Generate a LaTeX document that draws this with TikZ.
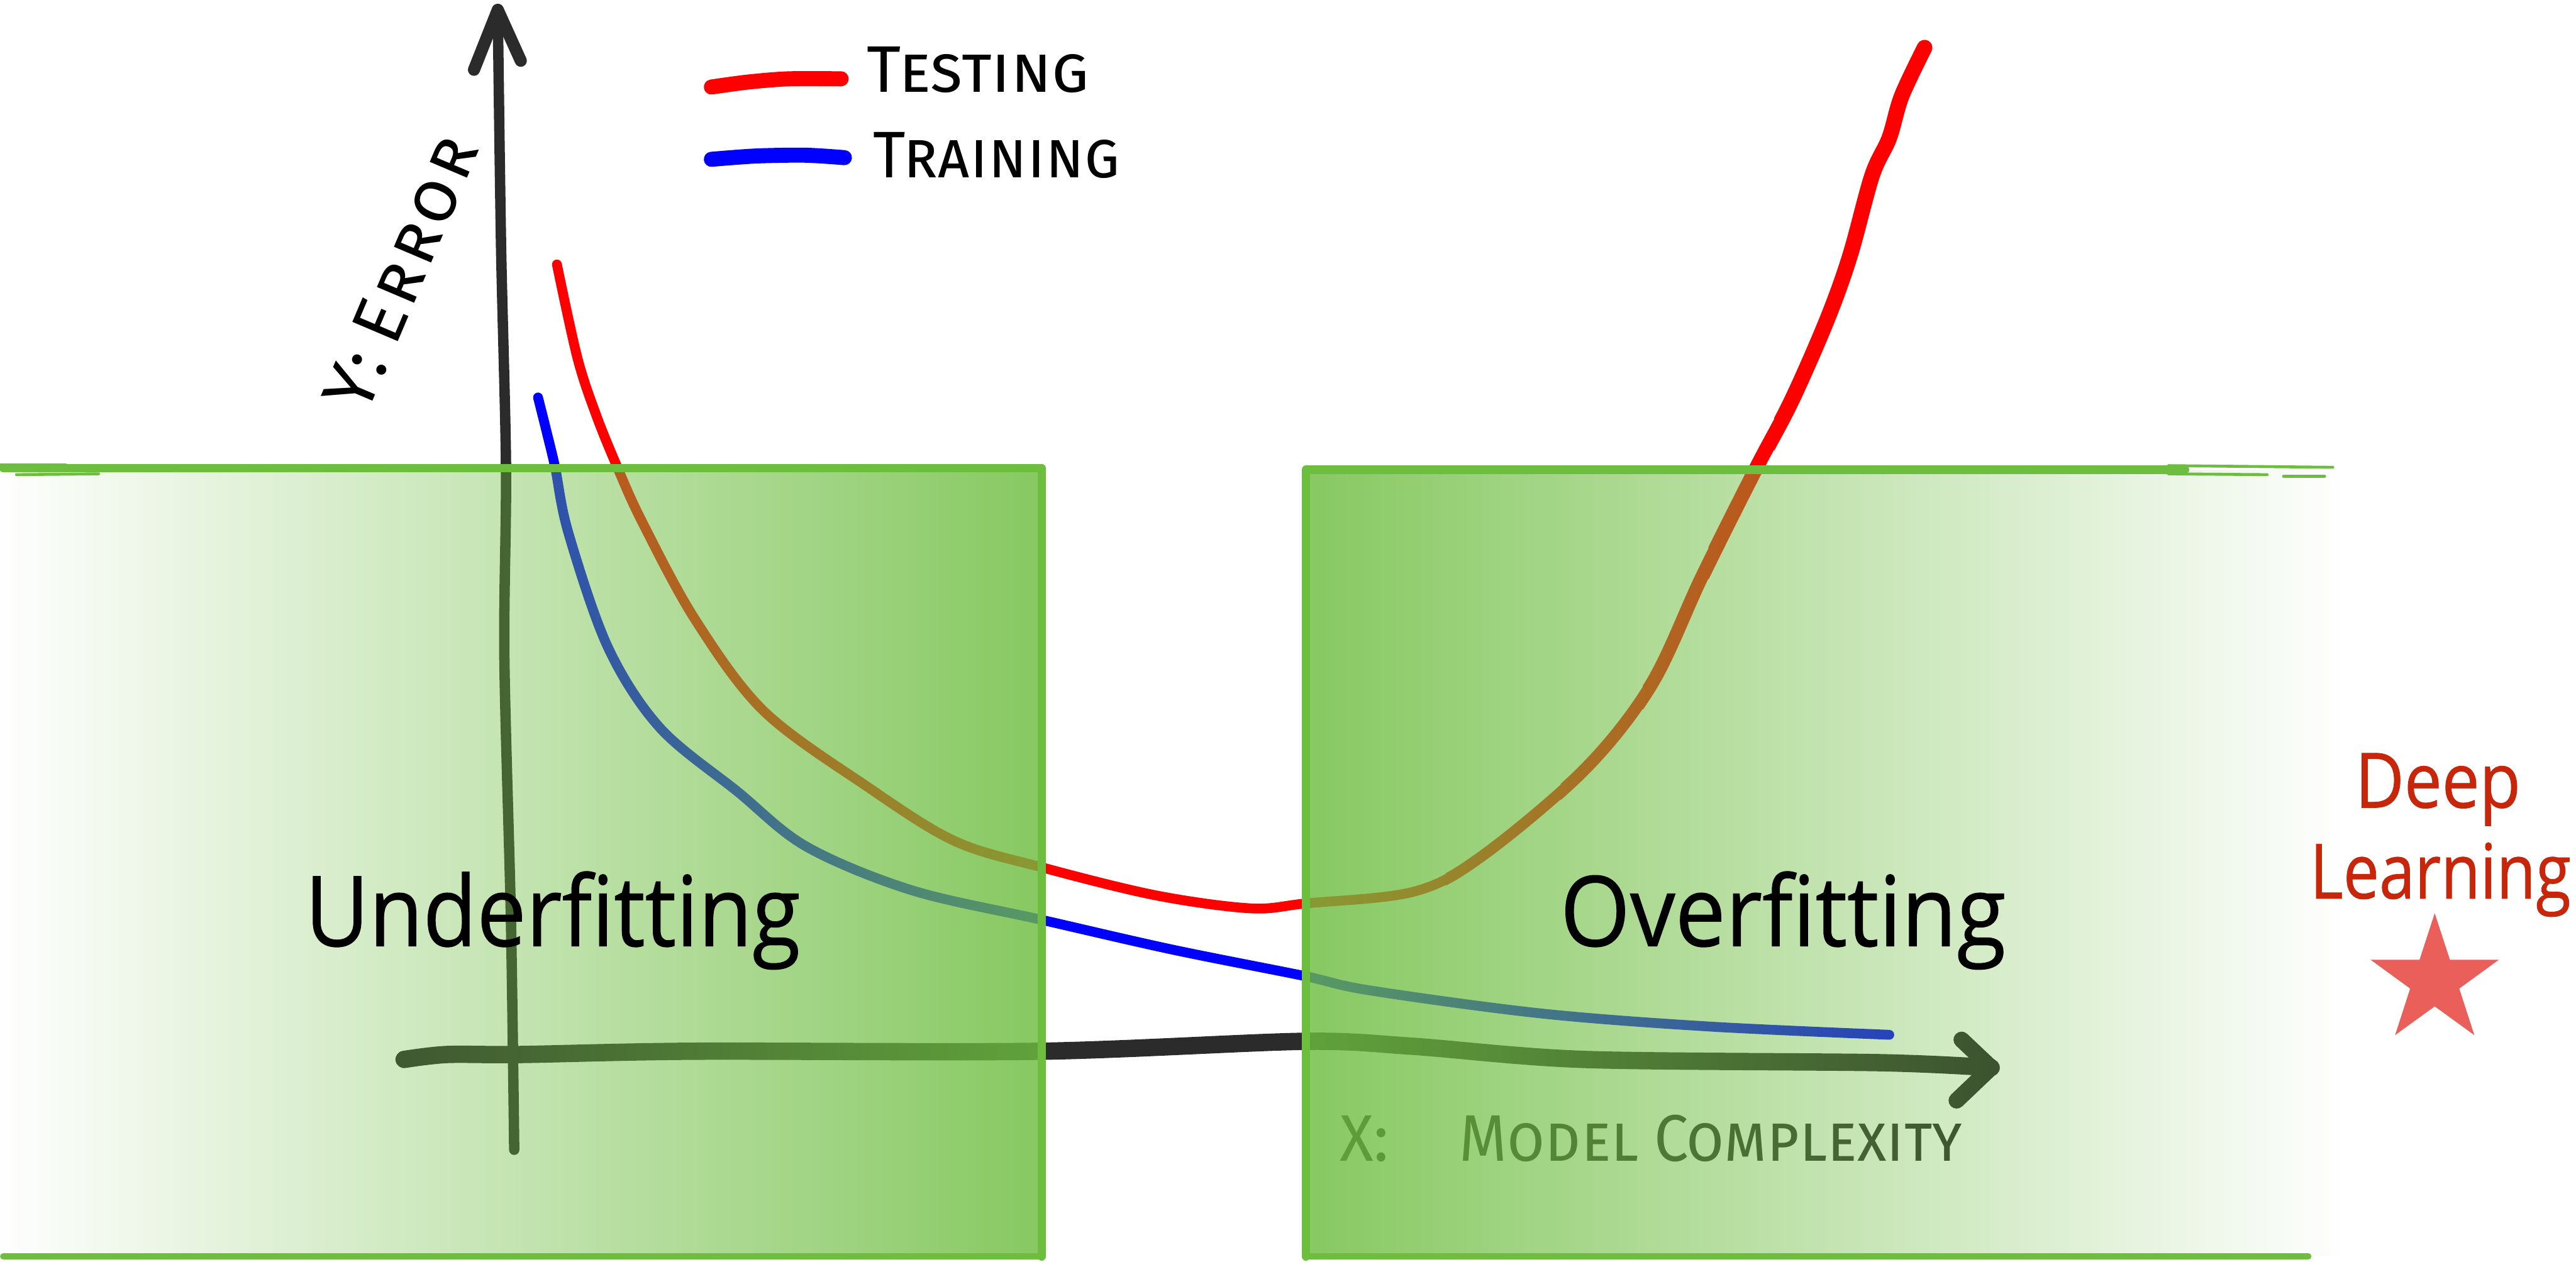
\documentclass[tikz,border=0pt]{standalone}
\usepackage{fontspec}
\usepackage{graphicx}
\usetikzlibrary{fadings}
\newfontfamily\gillfont{Open Sans}[FakeBold=0.7]
\newfontfamily\handfont{Fira Sans}[Letters=SmallCaps]
\newfontfamily\handfontwide{Fira Sans}[Letters=SmallCaps, LetterSpace=6]
\definecolor{boxgreen}{HTML}{6DBD3F}
\definecolor{axisgray}{HTML}{2B2B2B}
\definecolor{dlred}{HTML}{C8260A}
\definecolor{starred}{HTML}{EB5F5A}
\tikzfading[name=fadetoright, left color=transparent!100, right color=transparent!0]
\tikzfading[name=fadetoleft, left color=transparent!0, right color=transparent!100]
\tikzset{
  axisline/.style={draw=axisgray, line cap=round, line join=round},
  curvered/.style={draw=red, line cap=round, line join=round},
  curveblue/.style={draw=blue, line cap=round, line join=round},
  legendline/.style={line width=2.6pt, line cap=round},
  boxborder/.style={draw=boxgreen, line width=1.45pt, line cap=round, line join=round},
  brush/.style={draw=boxgreen, line width=0.5pt, line cap=round},
  hwtext/.style={font=\handfont\fontsize{11.4}{12}\selectfont, inner sep=0pt},
  bigtext/.style={font=\gillfont\fontsize{16.9}{18}\selectfont, inner sep=0pt, text=black},
  dltext/.style={font=\gillfont\fontsize{13.2}{15}\selectfont, inner sep=0pt, text=dlred}
}
\begin{document}
\begin{tikzpicture}[x=0.01cm, y=-0.01cm]
\useasboundingbox (0,0) rectangle (1568,768);
\fill[white] (0,0) rectangle (1568,768);

% ---- axes ----
\coordinate (ytip) at (303,6);
\coordinate (ybot) at (313,700);
\coordinate (xstart) at (246,645);
\coordinate (xtip) at (1212,650);
\draw[axisline, line width=1.8pt] plot[smooth, tension=0.5] coordinates
  {(ybot) (311,560) (307,400) (308,285) (305,150) (ytip)};
\draw[axisline, line width=2.1pt] (288.5,42.5) -- (ytip) -- (317,37);
\draw[axisline, line width=3pt] plot[smooth, tension=0.5] coordinates
  {(xstart) (272,642) (317,642) (423,640) (634,640) (793,634) (860,637) (964,645) (1145,647) (xtip)};
\draw[axisline, line width=2.8pt] (1194,633) -- (xtip) -- (1191,670);

% ---- curves ----
\foreach \xc/\w in {0/1.7, 880/1.9, 950/2.1, 1000/2.3, 1040/2.5, 1080/2.7} {
  \begin{scope}
    \clip (\xc,-20) rectangle (1600,800);
    \draw[curvered, line width=\w pt] plot[smooth, tension=0.55] coordinates
      {(339,161) (351.5,218) (363,253) (376,285) (391,318) (423,377) (465,433) (528,479)
       (581,512) (634,528) (703,545) (761,553) (795,550) (860,543) (901,522) (964,469)
       (1005,417) (1036,351) (1069,285) (1090.5,244) (1112,195) (1126,156) (1139.5,107)
       (1150,84) (1157.5,58.6) (1171.5,29)};
  \end{scope}
}
\draw[curveblue, line width=1.7pt] plot[smooth, tension=0.55] coordinates
  {(327.5,242) (333,264) (338,285) (346,324.5) (370,394) (401.6,443) (449,482)
   (491,515.5) (555,542) (634,560) (713,578) (793,594) (834,603) (938,617) (1041,625) (1150,630)};

% ---- legend ----
\draw[legendline, red] plot[smooth] coordinates {(433,53) (455,50) (480,48) (512,48)};
\draw[legendline, blue] plot[smooth] coordinates {(433,97) (460,95) (490,94.5) (514,96)};
\node[hwtext, anchor=base west] (testing) at (527,56) {\scalebox{1.0}[1]{Testing}};
\node[hwtext, anchor=base west] (training) at (531,108) {\scalebox{0.95}[1]{Training}};

% ---- axis labels ----
\node[hwtext, font=\handfontwide\fontsize{12.4}{13}\selectfont, rotate=67] (ylabel) at (244,166) {Y:\hspace{0.1cm}Error};
\node[hwtext, anchor=base west, text=axisgray] (xlabel) at (815,707)
  {\scalebox{0.95}[1]{X:}\hspace{0.43cm}\scalebox{0.93}[1]{Model\hspace{0.1cm}Complexity}};

% ---- green overlays ----
\fill[boxgreen, fill opacity=0.82, path fading=fadetoright] (0,285) rectangle (634,765);
\fill[boxgreen, fill opacity=0.82, path fading=fadetoleft] (795,286) rectangle (1425,765);

% ---- borders ----
\draw[boxborder] (2,285) -- (634,285) -- (634,765);
\draw[boxborder, line width=1.1pt] (634,765) -- (2,765);
\draw[boxborder] (1330,286) -- (795,286) -- (795,765);
\draw[boxborder, line width=1.1pt] (795,765) -- (1405,765);
\draw[brush] (0,283) -- (40,283);
\draw[brush] (10,289) -- (60,288.5);
\draw[brush] (1320,283.5) -- (1420,284.5);
\draw[brush] (1320,288.5) -- (1380,289);
\draw[brush] (1390,290) -- (1415,290);

% ---- region labels ----
\node[bigtext, anchor=base west] (under) at (185,576) {\scalebox{0.9}[1]{Underfitting}};
\node[bigtext, anchor=base west] (over) at (949,576) {\scalebox{0.92}[1]{Overfitting}};
\node[dltext, anchor=base] (deep) at (1484,491.7) {\scalebox{0.88}[1]{Deep}};
\node[dltext, anchor=base] (learning) at (1485.5,547) {\scalebox{0.84}[1]{Learning}};

% ---- star ----
\fill[starred, shift={(1482,597)}] (90:0.41cm) -- (126:0.157cm) -- (162:0.41cm) -- (198:0.157cm)
  -- (234:0.41cm) -- (270:0.157cm) -- (306:0.41cm) -- (342:0.157cm) -- (18:0.41cm) -- (54:0.157cm) -- cycle;
\end{tikzpicture}
\end{document}
